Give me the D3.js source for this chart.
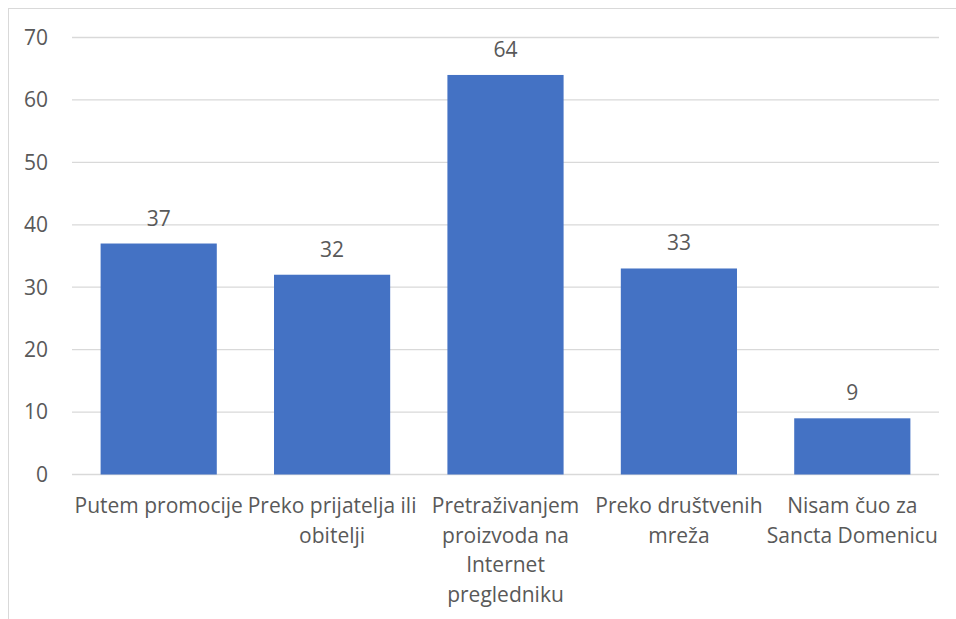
<!DOCTYPE html>
<html lang="hr">
<head>
<meta charset="UTF-8">
<script src="https://d3js.org/d3.v7.min.js"></script>
<style>
  body { margin:0; background:#fff; }
  svg text { font-family: "Open Sans", "Noto Sans", sans-serif; fill:#595959; }
</style>
</head>
<body>
<svg width="956" height="619"></svg>
<script>
const categories = [
  ["Putem promocije"],
  ["Preko prijatelja ili", "obitelji"],
  ["Pretraživanjem", "proizvoda na", "Internet", "pregledniku"],
  ["Preko društvenih", "mreža"],
  ["Nisam čuo za", "Sancta Domenicu"]
];
const values = [37, 32, 64, 33, 9];
const yTicks = [0, 10, 20, 30, 40, 50, 60, 70];

const svg = d3.select("svg");

// chart frame
svg.append("rect")
  .attr("x", 8.5).attr("y", 8.5)
  .attr("width", 1000).attr("height", 1000)
  .attr("fill", "none").attr("stroke", "#d9d9d9");

const pLeft = 72, pRight = 939, pTop = 37.5, pBottom = 474.5;

const xs = d3.scaleBand().domain(d3.range(values.length)).range([pLeft, pRight]).paddingInner(0.33).paddingOuter(0.165);
const ys = d3.scaleLinear().domain([0, 70]).range([pBottom, pTop]);

// gridlines
svg.append("g")
  .selectAll("line")
  .data(yTicks)
  .enter()
  .append("line")
  .attr("x1", pLeft).attr("x2", pRight)
  .attr("y1", d => ys(d)).attr("y2", d => ys(d))
  .attr("stroke", "#d9d9d9").attr("stroke-width", 1.3);

// y labels
svg.append("g")
  .selectAll("text")
  .data(yTicks)
  .enter()
  .append("text")
  .attr("x", 48)
  .attr("y", d => ys(d))
  .attr("dy", "0.35em")
  .attr("text-anchor", "end")
  .style("font-size", "21px")
  .text(d => d);

// bars
svg.append("g")
  .selectAll("rect")
  .data(values)
  .enter()
  .append("rect")
  .attr("x", (d, i) => xs(i))
  .attr("width", xs.bandwidth())
  .attr("y", d => ys(d))
  .attr("height", d => ys(0) - ys(d))
  .attr("fill", "#4472c4");

// value labels
svg.append("g")
  .selectAll("text")
  .data(values)
  .enter()
  .append("text")
  .attr("x", (d, i) => xs(i) + xs.bandwidth() / 2)
  .attr("y", d => ys(d) - 18)
  .attr("text-anchor", "middle")
  .style("font-size", "21px")
  .text(d => d);

// category labels
const cat = svg.append("g")
  .selectAll("text")
  .data(categories)
  .enter()
  .append("text")
  .attr("text-anchor", "middle")
  .style("font-size", "21px")
  .attr("transform", (d, i) => "translate(" + (xs(i) + xs.bandwidth() / 2) + "," + 513 + ")");

cat.selectAll("tspan")
  .data(d => d)
  .enter()
  .append("tspan")
  .attr("x", 0)
  .attr("y", (d, j) => j * 29.7)
  .text(d => d);
</script>
</body>
</html>
